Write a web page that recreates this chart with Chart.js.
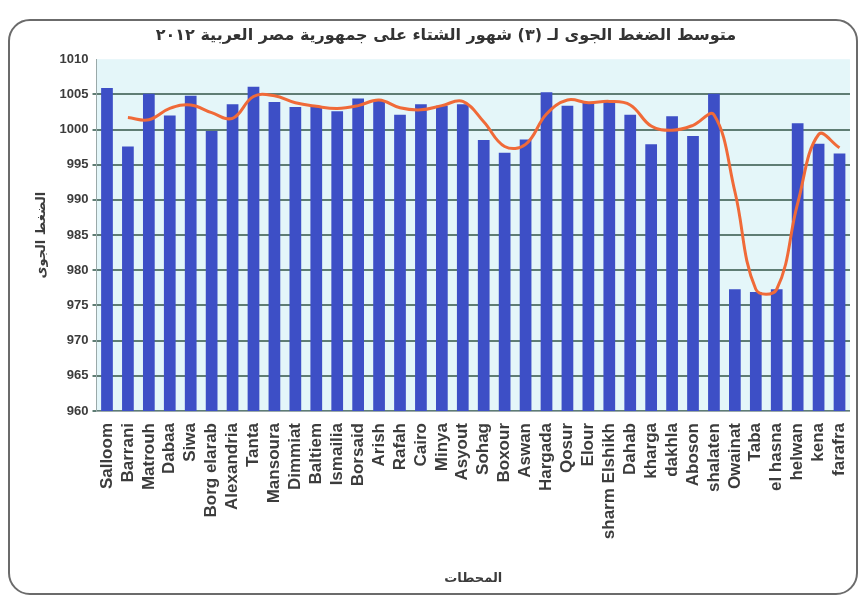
<!DOCTYPE html>
<html>
<head>
<meta charset="utf-8">
<script src="https://cdn.jsdelivr.net/npm/chart.js@4"></script>
<style>
  html, body { margin: 0; padding: 0; background: #ffffff; }
  #wrap { position: relative; width: 864px; height: 600px; overflow: hidden; }
  #frame { position: absolute; left: 8px; top: 19px; width: 850px; height: 576px;
           border: 2px solid #6b6b6b; border-radius: 22px; box-sizing: border-box; }
  canvas { position: absolute; left: 0; top: 0; }
</style>
</head>
<body>
<div id="wrap">
  <div id="frame"></div>
  <canvas id="c" width="864" height="600"></canvas>
</div>
<script>
const stations = ["Salloom","Barrani","Matrouh","Dabaa","Siwa","Borg elarab","Alexandria","Tanta",
  "Mansoura","Dimmiat","Baltiem","Ismailia","Borsaid","Arish","Rafah","Cairo","Minya","Asyout",
  "Sohag","Boxour","Aswan","Hargada","Qosur","Elour","sharm Elshikh","Dahab","kharga","dakhla",
  "Aboson","shalaten","Owainat","Taba","el hasna","helwan","kena","farafra"];

const pressure = [1005.9,997.6,1005.1,1002.0,1004.8,999.8,1003.6,1006.1,
  1003.9,1003.2,1003.2,1002.6,1004.4,1004.2,1002.1,1003.6,1003.4,1003.6,
  998.5,996.7,998.6,1005.3,1003.4,1003.8,1003.9,1002.1,997.9,1001.9,
  999.1,1005.1,977.3,976.9,977.3,1000.9,998.0,996.6];

const trend = [null,1001.7,1001.4,1003.0,1003.5,1002.4,1001.6,1004.7,
  1004.8,1003.8,1003.3,1003.0,1003.4,1004.2,1003.1,1002.8,1003.4,1004.0,
  1001.1,997.6,997.9,1002.2,1004.2,1003.8,1004.0,1003.5,1000.5,999.9,
  1000.6,1002.1,991.2,977.3,977.3,989.5,999.3,997.4];

const yMin = 960, yMax = 1010, yStep = 5;

const titleText = "متوسط الضغط الجوى لـ (٣) شهور الشتاء على جمهورية مصر العربية ٢٠١٢";
const yTitle = "الضغط الجوى";
const xTitle = "المحطات";

const plotBg = {
  id: 'plotBg',
  beforeDraw(chart) {
    const {ctx, chartArea: a} = chart;
    ctx.save();
    ctx.fillStyle = '#e4f6f9';
    ctx.fillRect(a.left, a.top, a.right - a.left, a.bottom - a.top);
    ctx.restore();
  }
};

new Chart(document.getElementById('c'), {
  data: {
    labels: stations,
    datasets: [
      {
        type: 'line',
        data: trend,
        borderColor: '#f06a38',
        borderWidth: 3,
        pointRadius: 0,
        tension: 0.4,
        spanGaps: false,
        order: 0
      },
      {
        type: 'bar',
        data: pressure,
        backgroundColor: '#3d4fc6',
        barPercentage: 0.56,
        categoryPercentage: 1.0,
        order: 1
      }
    ]
  },
  options: {
    responsive: false,
    animation: false,
    layout: { padding: { left: 34, right: 6, top: 18, bottom: 0 } },
    plugins: {
      legend: { display: false },
      tooltip: { enabled: false },
      title: {
        display: true,
        text: titleText,
        color: '#333333',
        font: { family: 'DejaVu Sans', size: 16, weight: 'bold' },
        padding: { top: 8, bottom: 14 }
      }
    },
    scales: {
      x: {
        grid: { display: false },
        border: { color: '#9aa9a9' },
        ticks: {
          minRotation: 90, maxRotation: 90, autoSkip: false,
          color: '#3c3c3c',
          font: { family: 'Liberation Sans', size: 17, weight: 'bold' },
          padding: 4
        },
        title: {
          display: true, text: xTitle, color: '#3c3c3c',
          font: { family: 'DejaVu Sans', size: 13, weight: 'bold' },
          padding: { top: 0, bottom: 14 }
        },
        afterFit(axis) { axis.height = 189; }
      },
      y: {
        min: yMin, max: yMax,
        grid: {
          color: ctx => ctx.tick && ctx.tick.value === yMax ? 'rgba(0,0,0,0)' : '#5f7d74',
          lineWidth: 2,
          drawTicks: true, tickLength: 4
        },
        border: { color: '#9aa9a9' },
        ticks: {
          stepSize: yStep,
          color: '#3c3c3c',
          font: { family: 'Liberation Sans', size: 13, weight: 'bold' },
          padding: 4,
          callback: v => String(v)
        },
        title: {
          display: true, text: yTitle, color: '#3c3c3c',
          font: { family: 'DejaVu Sans', size: 13, weight: 'bold' },
          padding: { top: 0, bottom: 6 }
        }
      }
    }
  },
  plugins: [plotBg]
});
</script>
</body>
</html>
